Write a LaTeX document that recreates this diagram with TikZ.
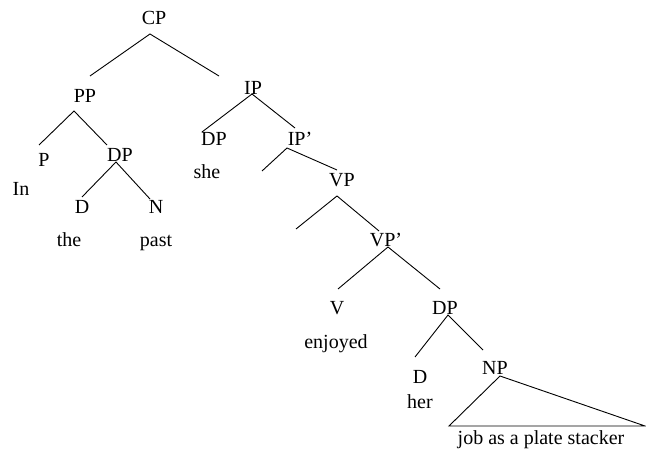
\documentclass[tikz,border=0pt]{standalone}
\usepackage{fontspec}
\setmainfont{Liberation Serif}

\begin{document}
\begin{tikzpicture}[x=1pt,y=-1pt,
  cat/.style={anchor=base,inner sep=0pt,font=\fontsize{20}{24}\selectfont},
  branch/.style={line width=0.9pt}]
\useasboundingbox (0,0) rectangle (646,449);
% labels (placed at their baselines)
\node[cat] (cp) at (154,25) {CP};
\node[cat] (pp) at (85,103) {PP};
\node[cat] (ip) at (253,95) {IP};
\node[cat] (p) at (44,167) {P};
\node[cat] (dpa) at (120,162) {DP};
\node[cat] (in) at (21,196) {In};
\node[cat] (da) at (82,214) {D};
\node[cat] (n) at (156,214) {N};
\node[cat] (the) at (69,247) {the};
\node[cat] (past) at (156,247) {past};
\node[cat] (dpb) at (214,146) {DP};
\node[cat] (ipbar) at (300,146) {IP'};
\node[cat] (she) at (207,179) {she};
\node[cat] (vp) at (342,187) {VP};
\node[cat] (vpbar) at (386,247) {VP'};
\node[cat] (v) at (337,315) {V};
\node[cat] (dpc) at (445,315) {DP};
\node[cat] (enjoyed) at (336,349) {enjoyed};
\node[cat] (db) at (420,384) {D};
\node[cat] (her) at (420,408) {her};
\node[cat] (np) at (495,375) {NP};
\node[cat] (job) at (541,444) {job as a plate stacker};
% branch points
\coordinate (cp-t) at (150,34);   \coordinate (cp-l) at (90,76);   \coordinate (cp-r) at (219,76);
\coordinate (pp-t) at (74,111);   \coordinate (pp-l) at (39,145);  \coordinate (pp-r) at (107,145);
\coordinate (dpa-t) at (116,162); \coordinate (dpa-l) at (82,197); \coordinate (dpa-r) at (150,199);
\coordinate (ip-t) at (252,94);   \coordinate (ip-l) at (202,132); \coordinate (ip-r) at (295,128);
\coordinate (ipbar-t) at (287,148); \coordinate (ipbar-l) at (262,171); \coordinate (ipbar-r) at (337,170);
\coordinate (vp-t) at (337,196);  \coordinate (vp-l) at (296,229); \coordinate (vp-r) at (379,231);
\coordinate (vpbar-t) at (388,247); \coordinate (vpbar-l) at (338,289); \coordinate (vpbar-r) at (440,289);
\coordinate (dpc-t) at (448,315); \coordinate (dpc-l) at (415,357); \coordinate (dpc-r) at (483,350);
\coordinate (np-t) at (500,376);  \coordinate (np-l) at (449,426); \coordinate (np-r) at (645,426);
% branches
\draw[branch] (cp-l) -- (cp-t) -- (cp-r);
\draw[branch] (pp-l) -- (pp-t) -- (pp-r);
\draw[branch] (dpa-l) -- (dpa-t) -- (dpa-r);
\draw[branch] (ip-l) -- (ip-t) -- (ip-r);
\draw[branch] (ipbar-l) -- (ipbar-t) -- (ipbar-r);
\draw[branch] (vp-l) -- (vp-t) -- (vp-r);
\draw[branch] (vpbar-l) -- (vpbar-t) -- (vpbar-r);
\draw[branch] (dpc-l) -- (dpc-t) -- (dpc-r);
\draw[branch] (np-l) -- (np-t) -- (np-r) -- cycle;
\end{tikzpicture}
\end{document}
